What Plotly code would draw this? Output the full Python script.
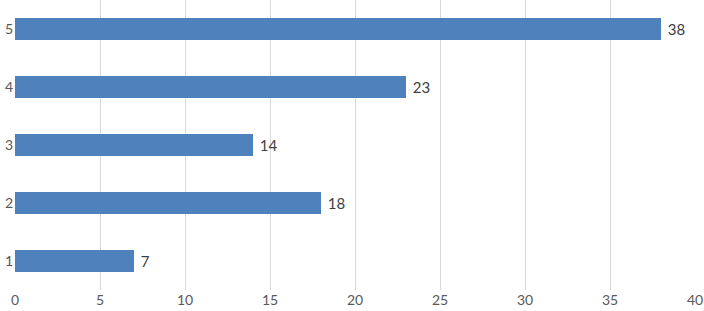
import plotly.graph_objects as go

categories = ["1", "2", "3", "4", "5"]
values = [7, 18, 14, 23, 38]
x_ticks = [0, 5, 10, 15, 20, 25, 30, 35, 40]

fig = go.Figure(go.Bar(
    y=categories, x=values, orientation="h",
    marker=dict(color="#4F81BD", line=dict(width=0)),
    width=0.38,
    text=[" " + str(v) for v in values], textposition="outside",
    textfont=dict(color="#404040", size=15, family="Lato"),
    cliponaxis=False,
    hoverinfo="skip",
))
fig.update_layout(
    width=704, height=311,
    margin=dict(l=15, r=9, t=0, b=21),
    plot_bgcolor="white", paper_bgcolor="white",
    showlegend=False,
    font=dict(family="Lato", size=14, color="#595959"),
    xaxis=dict(range=[0, 40], tickvals=x_ticks, showgrid=True, gridcolor="#D9D9D9",
               gridwidth=1, zeroline=False, showline=False, ticks="", tickfont=dict(size=14),
               automargin=False),
    yaxis=dict(type="category", range=[-0.5, 4.5], showgrid=False, zeroline=False,
               showline=False, ticks="", ticklabelstandoff=1, tickfont=dict(size=14),
               automargin=False),
)
fig.write_html("out.html", config={"displayModeBar": False},
               post_script="document.body.style.margin='0';document.body.style.overflow='hidden';")
